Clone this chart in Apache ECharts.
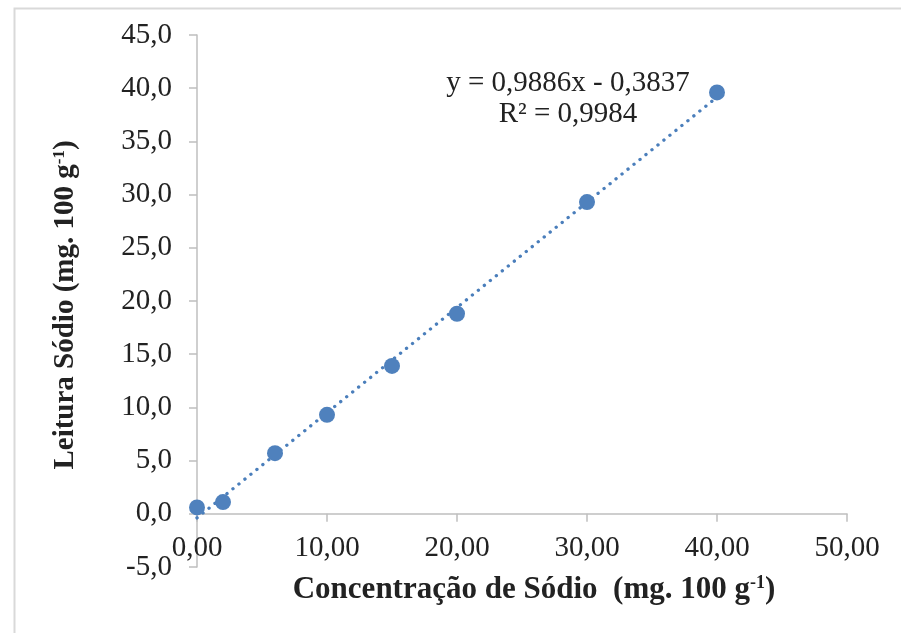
<!DOCTYPE html>
<html>
<head>
<meta charset="utf-8">
<script src="https://cdn.jsdelivr.net/npm/echarts@6/dist/echarts.min.js"></script>
<style>
html,body{margin:0;padding:0;background:#fff;}
#chart{width:901px;height:633px;}
</style>
</head>
<body>
<div id="chart"></div>
<script>
// Data
var concentracao = [0, 2, 6, 10, 15, 20, 30, 40];
var leitura = [0.6, 1.1, 5.7, 9.3, 13.9, 18.8, 29.3, 39.6];
// Trendline coefficients shown on the chart
var slope = 0.9886;
var intercept = -0.3837;
var trendX = [0, 40];
var equationLines = ['y = 0,9886x - 0,3837', 'R² = 0,9984'];
var xTitle = 'Concentração de Sódio  (mg. 100 g';
var yTitle = 'Leitura Sódio (mg. 100 g';

var points = concentracao.map(function (x, i) { return [x, leitura[i]]; });
var trend = trendX.map(function (x) { return [x, slope * x + intercept]; });

var FONT = '"Liberation Serif", "Times New Roman", serif';
var axisColor = '#bfbfbf';

var chart = echarts.init(document.getElementById('chart'), null, {renderer: 'canvas'});
chart.setOption({
  animation: false,
  backgroundColor: '#ffffff',
  grid: {left: 197, right: 54, top: 35, bottom: 66, containLabel: false},
  xAxis: {
    type: 'value', min: 0, max: 50, interval: 10,
    axisLine: {show: true, onZero: true, lineStyle: {color: axisColor, width: 1.5}},
    axisTick: {show: true, inside: false, length: 8, lineStyle: {color: axisColor, width: 1.5}},
    splitLine: {show: false},
    axisLabel: {
      margin: -33, fontFamily: FONT, fontSize: 29, color: '#222', hideOverlap: false,
      formatter: function (v) { return v.toFixed(2).replace('.', ','); }
    }
  },
  yAxis: {
    type: 'value', min: -5, max: 45, interval: 5,
    axisLine: {show: true, onZero: false, lineStyle: {color: axisColor, width: 1.5}},
    axisTick: {show: true, inside: false, length: 8, lineStyle: {color: axisColor, width: 1.5}},
    splitLine: {show: false},
    axisLabel: {
      margin: 25, fontFamily: FONT, fontSize: 29, color: '#222', padding: [8, 0, 0, 0],
      formatter: function (v) { return v.toFixed(1).replace('.', ','); }
    }
  },
  series: [
    {
      type: 'line', data: trend, symbol: 'none', z: 2,
      lineStyle: {color: '#4a7ebb', width: 3.3, type: [0.1, 7.6], cap: 'round', opacity: 1}
    },
    {
      type: 'scatter', data: points, symbol: 'circle', symbolSize: 16, z: 3,
      itemStyle: {color: '#4f81bd', opacity: 1}
    }
  ],
  graphic: [
    {
      type: 'rect', left: 12, top: 6, z: -10, silent: true,
      shape: {width: 1000, height: 1000},
      style: {fill: 'none', stroke: '#d9d9d9', lineWidth: 2}
    },
    {
      type: 'text', x: 568, y: 99, z: 10,
      style: {
        text: equationLines.join('\n'), align: 'center', verticalAlign: 'middle',
        font: '29px ' + FONT, fill: '#222', lineHeight: 31
      }
    },
    {
      type: 'text', x: 534, y: 590, z: 10,
      style: {
        text: '{m|' + xTitle + '}{s|-1}{m|)}', align: 'center', verticalAlign: 'middle',
        rich: {
          m: {fontFamily: FONT, fontWeight: 'bold', fontSize: 31, fill: '#222', lineHeight: 32},
          s: {fontFamily: FONT, fontWeight: 'bold', fontSize: 18, fill: '#222', lineHeight: 32, verticalAlign: 'top'}
        }
      }
    },
    {
      type: 'text', x: 66, y: 305, rotation: Math.PI / 2, z: 10,
      style: {
        text: '{m|' + yTitle + '}{s|-1}{m|)}', align: 'center', verticalAlign: 'middle',
        rich: {
          m: {fontFamily: FONT, fontWeight: 'bold', fontSize: 29, fill: '#222', lineHeight: 30},
          s: {fontFamily: FONT, fontWeight: 'bold', fontSize: 17, fill: '#222', lineHeight: 30, verticalAlign: 'top'}
        }
      }
    }
  ]
});
</script>
</body>
</html>
